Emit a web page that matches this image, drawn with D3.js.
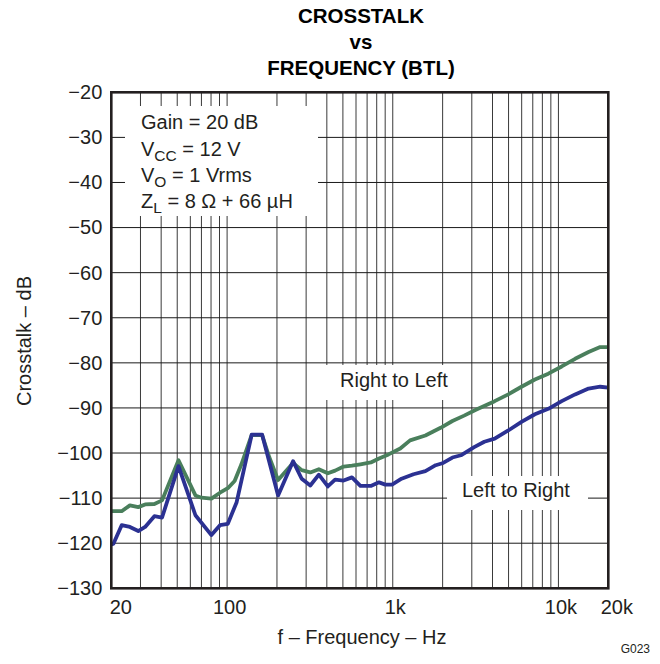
<!DOCTYPE html>
<html>
<head>
<meta charset="utf-8">
<script src="https://cdn.jsdelivr.net/npm/d3@7"></script>
<style>
  html, body { margin: 0; padding: 0; background: #fff; }
  svg { display: block; font-family: "Liberation Sans", Arial, Helvetica, sans-serif; }
</style>
</head>
<body>
<svg id="chart" width="660" height="664"></svg>
<script>
// ---- data ----
const titleLines = ["CROSSTALK", "vs", "FREQUENCY (BTL)"];
const xTickValues = [20, 100, 1000, 10000, 20000];
const xTickLabels = ["20", "100", "1k", "10k", "20k"];
const yTickValues = [-130, -120, -110, -100, -90, -80, -70, -60, -50, -40, -30, -20];
const gridFreqs = [20, 30, 40, 50, 60, 70, 80, 90, 100, 200, 300, 400, 500, 600, 700, 800, 900,
  1000, 2000, 3000, 4000, 5000, 6000, 7000, 8000, 9000, 10000, 20000];

// Right to Left (green)
const rlFreq = [20, 20.6, 23.1, 25.9, 29.1, 32.0, 36.4, 40.5, 50.9, 64.4, 70, 80.4, 90.6, 101, 111,
  122, 140.8, 162.6, 180, 203.2, 250.1, 282, 317.9, 357.9, 405.5, 448.7, 505.1, 567, 637.9, 737, 826,
  943, 1110, 1272, 1574, 1945, 2291, 2697, 3175, 4122, 4980, 5985, 7210, 8690, 10470, 12610, 15200,
  17870, 20000];
const rlDb = [-112.9, -112.9, -112.9, -111.6, -112.0, -111.4, -111.3, -110.5, -101.6, -109.4, -109.9,
  -110.1, -108.8, -107.8, -106.2, -102.5, -96.0, -96.0, -101.0, -106.0, -102.2, -103.8, -104.3, -103.6,
  -104.5, -103.9, -103.0, -102.8, -102.5, -102.1, -101.2, -100.3, -99.0, -97.2, -96.1, -94.4, -92.9,
  -91.7, -90.4, -88.5, -87.0, -85.3, -83.7, -82.4, -80.8, -79.1, -77.6, -76.5, -76.5];

// Left to Right (blue)
const lrFreq = [20, 20.6, 23.1, 25.9, 29.1, 32.0, 36.4, 40.5, 50.9, 64.4, 80.4, 90.6, 101, 114.2,
  140.8, 162.6, 203.2, 250.1, 282, 317.9, 357.9, 405.5, 448.7, 505.1, 567, 637.9, 737, 826, 902, 990,
  1130, 1334, 1574, 1816, 2015, 2291, 2579, 3100, 3570, 4122, 4980, 5985, 7210, 8690, 10470, 12610,
  15200, 17870, 20000];
const lrDb = [-120.3, -120.1, -116.0, -116.4, -117.3, -116.4, -114.0, -114.3, -102.9, -113.8, -118.2,
  -116.0, -115.7, -110.9, -95.9, -95.9, -109.4, -101.8, -105.7, -107.2, -104.8, -107.4, -105.9, -106.1,
  -105.4, -107.3, -107.3, -106.5, -107.0, -107.0, -105.7, -104.7, -104.0, -102.7, -102.2, -101.0,
  -100.5, -98.7, -97.5, -96.8, -95.0, -93.1, -91.4, -90.2, -88.5, -87.0, -85.7, -85.3, -85.5];

const annotationLines = [
  [{t: "Gain = 20 dB"}],
  [{t: "V"}, {t: "CC", sub: true}, {t: " = 12 V"}],
  [{t: "V"}, {t: "O", sub: true}, {t: " = 1 Vrms"}],
  [{t: "Z"}, {t: "L", sub: true}, {t: " = 8 \u03A9 + 66 \u00B5H"}]
];

// ---- layout ----
const L = 111.3, R = 608.3, T = 92.3, B = 588.3;
const ink = "#231f20";
const green = "#4a7f5c";
const blue = "#2b3192";

const svg = d3.select("#chart");
const x = d3.scaleLog().domain([20, 20000]).range([L, R]);
const y = d3.scaleLinear().domain([-130, -20]).range([B, T]);

// grid
const grid = svg.append("g");
grid.selectAll("line.v").data(gridFreqs).join("line")
  .attr("x1", d => x(d)).attr("x2", d => x(d)).attr("y1", T).attr("y2", B)
  .attr("stroke", "#3a3a3a").attr("stroke-width", 1);
grid.selectAll("line.h").data(yTickValues).join("line")
  .attr("x1", L).attr("x2", R).attr("y1", d => y(d)).attr("y2", d => y(d))
  .attr("stroke", "#1a1a1a").attr("stroke-width", 1);

// white boxes behind text
const boxes = [
  {x0: 125, y0: 106, x1: 318, y1: 216},
  {x0: 326, y0: 365, x1: 462, y1: 400},
  {x0: 447, y0: 476, x1: 588, y1: 510}
];
svg.selectAll("rect.box").data(boxes).join("rect")
  .attr("x", d => d.x0).attr("y", d => d.y0)
  .attr("width", d => d.x1 - d.x0).attr("height", d => d.y1 - d.y0)
  .attr("fill", "#fff");

// curves
const line = d3.line().x(d => x(d[0])).y(d => y(d[1]));
svg.append("path").datum(d3.zip(rlFreq, rlDb)).attr("d", line)
  .attr("fill", "none").attr("stroke", green).attr("stroke-width", 3.8)
  .attr("stroke-linejoin", "round").attr("stroke-linecap", "butt");
svg.append("path").datum(d3.zip(lrFreq, lrDb)).attr("d", line)
  .attr("fill", "none").attr("stroke", blue).attr("stroke-width", 3.8)
  .attr("stroke-linejoin", "round").attr("stroke-linecap", "butt");

// frame
svg.append("rect").attr("x", L).attr("y", T).attr("width", R - L).attr("height", B - T)
  .attr("fill", "none").attr("stroke", ink).attr("stroke-width", 2.6);

// axes labels via d3 axes
const yAxis = svg.append("g").attr("transform", `translate(${L},0)`)
  .call(d3.axisLeft(y).tickValues(yTickValues).tickSize(0).tickPadding(9)
    .tickFormat(d => String(d).replace("-", "\u2212")));
yAxis.select(".domain").remove();
yAxis.selectAll("text").attr("font-size", 20).attr("fill", ink)
  .attr("font-family", "'Liberation Sans', Arial, sans-serif");

const xAxis = svg.append("g").attr("transform", `translate(0,${B})`)
  .call(d3.axisBottom(x).tickValues(xTickValues).tickSize(0).tickPadding(12)
    .tickFormat((d, i) => xTickLabels[i]));
xAxis.select(".domain").remove();
xAxis.selectAll("text").attr("font-size", 20).attr("fill", ink)
  .attr("font-family", "'Liberation Sans', Arial, sans-serif")
  .attr("dx", (d, i) => i === 0 ? 9 : (i === xTickValues.length - 1 ? 8 : 2));

// axis titles
svg.append("text").attr("x", 362).attr("y", 644).attr("text-anchor", "middle")
  .attr("font-size", 20).attr("fill", ink).text("f \u2013 Frequency \u2013 Hz");
svg.append("text").attr("transform", "translate(31,341) rotate(-90)").attr("text-anchor", "middle")
  .attr("font-size", 20).attr("fill", ink).text("Crosstalk \u2013 dB");

// title
const titleY = [23, 48.5, 75];
svg.selectAll("text.title").data(titleLines).join("text")
  .attr("x", 361).attr("y", (d, i) => titleY[i]).attr("text-anchor", "middle")
  .attr("font-size", 20.5).attr("font-weight", "bold").attr("fill", "#000").text(d => d);

// annotation
const annY = [129, 156, 182, 208];
annotationLines.forEach((parts, i) => {
  const t = svg.append("text").attr("x", 141).attr("y", annY[i]).attr("font-size", 20).attr("fill", ink);
  let shifted = false;
  parts.forEach(p => {
    const s = t.append("tspan").text(p.t);
    if (p.sub) { s.attr("font-size", 15.5).attr("dy", 5); shifted = true; }
    else if (shifted) { s.attr("dy", -5); shifted = false; }
  });
});

// series labels
svg.append("text").attr("x", 340).attr("y", 387).attr("font-size", 20).attr("fill", ink).text("Right to Left");
svg.append("text").attr("x", 462).attr("y", 497).attr("font-size", 20).attr("fill", ink).text("Left to Right");

// figure code
svg.append("text").attr("x", 650).attr("y", 653).attr("text-anchor", "end")
  .attr("font-size", 12).attr("fill", ink).text("G023");
</script>
</body>
</html>
